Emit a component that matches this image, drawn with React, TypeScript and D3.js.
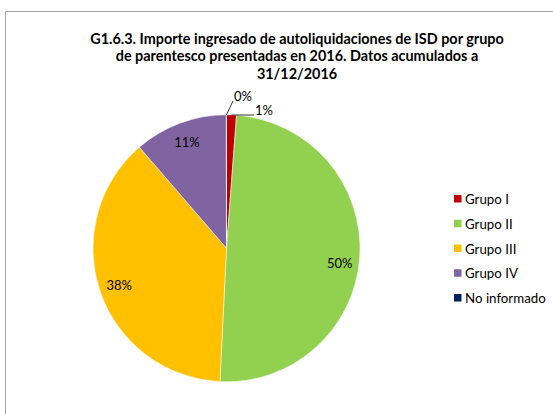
import React from "react";
import * as d3 from "d3";

const categories = ["Grupo I", "Grupo II", "Grupo III", "Grupo IV", "No informado"];
const values = [1.2, 49.6, 37.9, 11.3, 0.02];
const colors = ["#C00000", "#92D050", "#FFC000", "#8064A2", "#002060"];
const titleLines = [
  "G1.6.3. Importe ingresado de autoliquidaciones de ISD por grupo",
  "de parentesco presentadas en 2016. Datos acumulados a",
  "31/12/2016",
];

const W = 553;
const H = 414;
const cx = 226.5;
const cy = 248.3;
const R = 133.5;
const FONT = "Lato, 'Open Sans', sans-serif";

export default function App() {
  const total = d3.sum(values);
  const pie = d3.pie<number>().sort(null).value((d) => d);
  const arcs = pie(values);
  const arcGen = d3.arc<d3.PieArcDatum<number>>().innerRadius(0).outerRadius(R);
  const labelArc = d3.arc<d3.PieArcDatum<number>>().innerRadius(R * 0.85).outerRadius(R * 0.85);
  const pct = (v: number) => `${Math.round((v / total) * 100)}%`;

  const outer = (a: d3.PieArcDatum<number>) => {
    const mid = (a.startAngle + a.endAngle) / 2;
    return { ex: cx + Math.sin(mid) * R, ey: cy - Math.cos(mid) * R };
  };

  const legendY = d3.scaleLinear().domain([0, categories.length - 1]).range([199, 298]);
  const o0 = outer(arcs[0]);
  const o4 = outer(arcs[4]);

  return (
    <svg
      width={W}
      height={H}
      style={{ position: "absolute", left: 0, top: 0, background: "#fff" }}
      fontFamily={FONT}
    >
      <rect x={0} y={0} width={W} height={H} fill="#fff" />
      <line x1={5.5} y1={11.5} x2={W} y2={11.5} stroke="#a6a6a6" strokeWidth={1} />
      <line x1={5.5} y1={11.5} x2={5.5} y2={H} stroke="#a6a6a6" strokeWidth={1} />
      {titleLines.map((t, i) => (
        <text
          key={i}
          x={297}
          y={43.5 + i * 17.8}
          textAnchor="middle"
          fontWeight="bold"
          fontSize={14.4}
          fill="#000"
        >
          {t}
        </text>
      ))}
      <g transform={`translate(${cx},${cy})`}>
        {arcs.map((a, i) => (
          <path key={i} d={arcGen(a) || ""} fill={colors[i]} stroke="#fff" strokeWidth={0.5} />
        ))}
      </g>
      {arcs.map((a, i) => {
        if (values[i] < 5) return null;
        const [lx, ly] = labelArc.centroid(a);
        return (
          <text
            key={i}
            x={cx + lx}
            y={cy + ly + (i === 1 ? 8 : 0)}
            textAnchor="middle"
            dominantBaseline="central"
            fontSize={13}
            fill="#000"
          >
            {pct(values[i])}
          </text>
        );
      })}
      <polyline
        points={`${o0.ex},${o0.ey} ${o0.ex + 2},115 254,115`}
        fill="none"
        stroke="#000"
        strokeWidth={0.8}
      />
      <text x={255} y={110} dominantBaseline="central" fontSize={13} fill="#000">
        {pct(values[0])}
      </text>
      <polyline points={`${o4.ex},${o4.ey} 233,101`} fill="none" stroke="#000" strokeWidth={0.8} />
      <text x={234} y={96} dominantBaseline="central" fontSize={13} fill="#000">
        {pct(values[4])}
      </text>
      {categories.map((c, i) => (
        <g key={c}>
          <rect x={454} y={legendY(i) - 4} width={7.5} height={7.5} fill={colors[i]} />
          <text x={465} y={legendY(i)} dominantBaseline="central" fontSize={13.3} fill="#000">
            {c}
          </text>
        </g>
      ))}
    </svg>
  );
}
